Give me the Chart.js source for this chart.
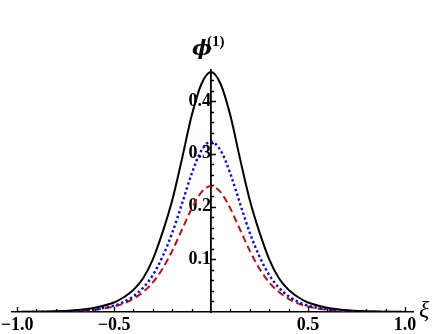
<!DOCTYPE html>
<html>
<head>
<meta charset="utf-8">
<script src="https://cdn.jsdelivr.net/npm/chart.js@4.4.1/dist/chart.umd.min.js"></script>
<style>
  body { margin: 0; background: #fff; }
  #wrap { width: 436px; height: 334px; }
</style>
</head>
<body>
<div id="wrap"><canvas id="phiChart" width="436" height="334"></canvas></div>
<script>
// values
var xi = [-1.0, -0.9, -0.8, -0.7, -0.6, -0.5, -0.45, -0.4, -0.35, -0.3, -0.25, -0.2, -0.15, -0.1, -0.05,
          0,
          0.05, 0.1, 0.15, 0.2, 0.25, 0.3, 0.35, 0.4, 0.45, 0.5, 0.6, 0.7, 0.8, 0.9, 1.0];

var phiSolid = [0.0002, 0.0005, 0.0012, 0.0031, 0.008, 0.018, 0.028, 0.042, 0.064, 0.100, 0.151, 0.212, 0.290, 0.372, 0.432,
                0.455,
                0.432, 0.372, 0.290, 0.212, 0.151, 0.100, 0.064, 0.042, 0.028, 0.018, 0.008, 0.0031, 0.0012, 0.0005, 0.0002];

var phiDotted = [0.0001, 0.0003, 0.0008, 0.002, 0.005, 0.012, 0.019, 0.030, 0.046, 0.070, 0.105, 0.150, 0.205, 0.262, 0.306,
                 0.323,
                 0.306, 0.262, 0.205, 0.150, 0.105, 0.070, 0.046, 0.030, 0.019, 0.012, 0.005, 0.002, 0.0008, 0.0003, 0.0001];

var phiDashed = [0.0001, 0.0003, 0.0007, 0.0017, 0.0043, 0.0104, 0.016, 0.025, 0.038, 0.056, 0.082, 0.116, 0.156, 0.196, 0.227,
                 0.239,
                 0.227, 0.196, 0.156, 0.116, 0.082, 0.056, 0.038, 0.025, 0.016, 0.0104, 0.0043, 0.0017, 0.0007, 0.0003, 0.0001];

// tick labels and tick marks
var xTicks = [-1.0, -0.5, 0.5, 1.0];
var yTicks = [0.1, 0.2, 0.3, 0.4];
var xMinor = [-1.0, -0.9, -0.8, -0.7, -0.6, -0.5, -0.4, -0.3, -0.2, -0.1, 0.1, 0.2, 0.3, 0.4, 0.5, 0.6, 0.7, 0.8, 0.9, 1.0];
var yMinor = [0.02, 0.04, 0.06, 0.08, 0.1, 0.12, 0.14, 0.16, 0.18, 0.2, 0.22, 0.24, 0.26, 0.28, 0.3,
              0.32, 0.34, 0.36, 0.38, 0.4, 0.42, 0.44];

function points(ys) {
	return xi.map(function(x, i) { return {x: x, y: ys[i]}; });
}

function fmt(v) {
	var s = Math.abs(v).toFixed(1);
	return v < 0 ? '\u2212' + s : s;
}

function isMajor(v, list) {
	return list.some(function(m) { return Math.abs(m - v) < 1e-9; });
}

function zeroBox(scale) {
	if (scale.isHorizontal()) scale.height = 0; else scale.width = 0;
	scale.paddingLeft = 0;
	scale.paddingRight = 0;
	scale.paddingTop = 0;
	scale.paddingBottom = 0;
}

var labelFont = {family: 'Liberation Serif', size: 18, weight: 'bold'};

var axisMarks = {
	id: 'axisMarks',
	afterDraw: function(chart) {
		var ctx = chart.ctx;
		var sx = chart.scales.x;
		var sy = chart.scales.y;
		var x0 = sx.getPixelForValue(0);
		var y0 = sy.getPixelForValue(0);
		ctx.save();
		ctx.strokeStyle = '#000';
		ctx.lineWidth = 1.3;
		ctx.beginPath();
		xMinor.forEach(function(v) {
			var px = Math.round(sx.getPixelForValue(v)) + 0.5;
			var len = isMajor(v, xTicks) ? 5 : 3;
			ctx.moveTo(px, y0);
			ctx.lineTo(px, y0 - len);
		});
		yMinor.forEach(function(v) {
			var py = Math.round(sy.getPixelForValue(v)) + 0.5;
			var len = isMajor(v, yTicks) ? 5 : 3;
			ctx.moveTo(x0, py);
			ctx.lineTo(x0 + len, py);
		});
		ctx.stroke();

		ctx.fillStyle = '#000';
		ctx.textAlign = 'left';
		ctx.textBaseline = 'alphabetic';
		ctx.font = 'italic bold 21px "DejaVu Serif"';
		ctx.fillText('\u03D5', x0 - 19, 55);
		ctx.font = 'bold 15px "Liberation Serif"';
		ctx.fillText('(1)', x0 - 4, 46);
		ctx.font = 'italic 24px "Liberation Serif"';
		ctx.fillText('\u03BE', sx.right + 6, y0 + 5);
		ctx.restore();
	}
};

const config = {
	type: 'line',
	data: {
		datasets: [
			{
				label: 'solid',
				data: points(phiSolid),
				borderColor: '#000000',
				borderWidth: 2,
				pointRadius: 0,
				cubicInterpolationMode: 'monotone'
			},
			{
				label: 'dotted',
				data: points(phiDotted),
				borderColor: '#0a0ad2',
				borderWidth: 2.4,
				borderDash: [2.4, 2.6],
				pointRadius: 0,
				cubicInterpolationMode: 'monotone'
			},
			{
				label: 'dashed',
				data: points(phiDashed),
				borderColor: '#b41414',
				borderWidth: 2,
				borderDash: [7, 4],
				pointRadius: 0,
				cubicInterpolationMode: 'monotone'
			}
		]
	},
	options: {
		responsive: false,
		animation: false,
		events: [],
		layout: {
			padding: {left: 12, right: 23, top: 70, bottom: 22}
		},
		scales: {
			x: {
				type: 'linear',
				min: -1.0258,
				max: 1.041,
				position: {y: 0},
				grid: {display: false, drawTicks: false},
				border: {display: true, color: '#000', width: 1.6},
				afterBuildTicks: function(scale) {
					scale.ticks = xTicks.map(function(v) { return {value: v}; });
				},
				afterFit: zeroBox,
				ticks: {
					color: '#000',
					font: labelFont,
					padding: 3,
					maxRotation: 0,
					autoSkip: false,
					callback: function(v) { return fmt(v); }
				}
			},
			y: {
				type: 'linear',
				min: 0,
				max: 0.459,
				position: {x: 0},
				grid: {display: false, drawTicks: false},
				border: {display: true, color: '#000', width: 1.8},
				afterBuildTicks: function(scale) {
					scale.ticks = yTicks.map(function(v) { return {value: v}; });
				},
				afterFit: zeroBox,
				ticks: {
					color: '#000',
					font: labelFont,
					padding: 4,
					autoSkip: false,
					callback: function(v) { return v.toFixed(1); }
				}
			}
		},
		plugins: {
			legend: {display: false},
			title: {display: false},
			tooltip: {enabled: false}
		}
	},
	plugins: [axisMarks]
};

var phiChart = new Chart(document.getElementById('phiChart'), config);
</script>
</body>
</html>
